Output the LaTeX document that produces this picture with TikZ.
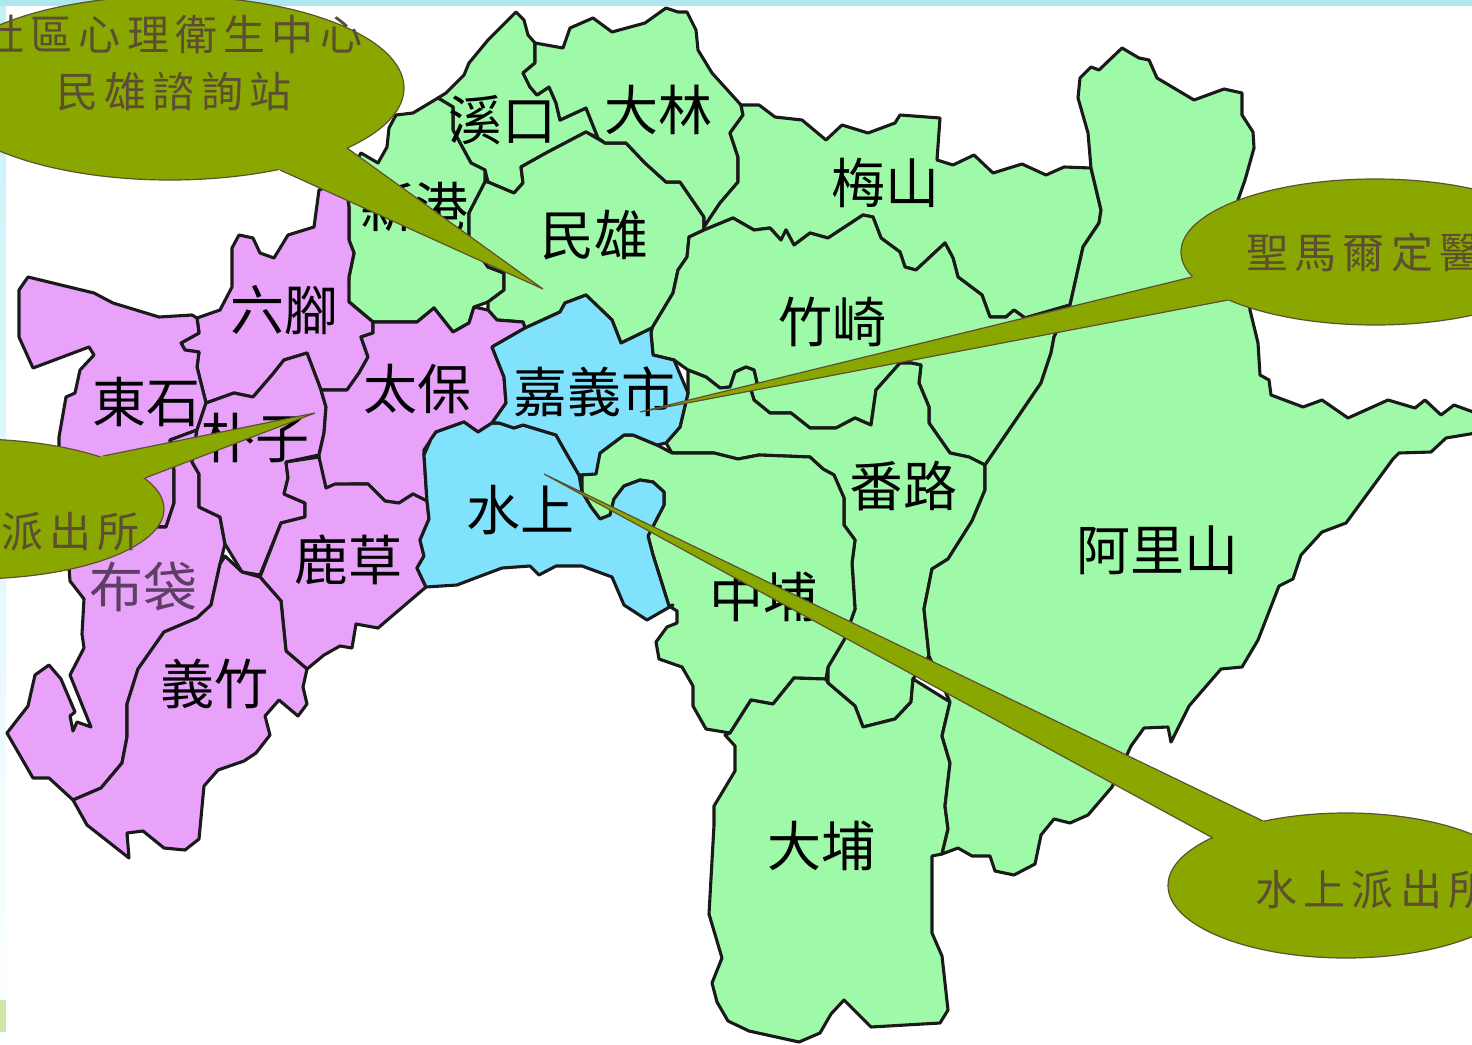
\documentclass[tikz,border=0pt]{standalone}
\usepackage{fontspec}
\newfontfamily\maplabelfont{Noto Sans CJK TC}
\newfontfamily\balloonfont[LetterSpace=15]{Noto Sans CJK TC}
\definecolor{mapgreen}{HTML}{9EF9A8}
\definecolor{mappink}{HTML}{E8A2FA}
\definecolor{mapblue}{HTML}{80E2FC}
\definecolor{mapline}{HTML}{1A1A1A}
\definecolor{olive}{HTML}{8AA700}
\definecolor{oliveline}{HTML}{5E5030}
\definecolor{balloontext}{HTML}{5C4E30}
\definecolor{topstrip}{HTML}{AEE8EE}
\definecolor{sidestrip}{HTML}{C4F2F8}
\definecolor{leafstrip}{HTML}{CFE8A8}
\tikzset{
  region/.style={draw=mapline,line width=3.1pt,line join=round},
  greenreg/.style={region,fill=mapgreen},
  pinkreg/.style={region,fill=mappink},
  bluereg/.style={region,fill=mapblue},
  maplabel/.style={text=black,inner sep=0pt,font=\maplabelfont\fontsize{54}{54}\selectfont},
  balloonbody/.style={fill=olive,draw=oliveline,line width=1.2pt},
  balloonlabel/.style={text=balloontext,inner sep=0pt,font=\balloonfont\fontsize{42}{42}\selectfont}
}
\begin{document}
\begin{tikzpicture}[x=1pt,y=-1pt]
\useasboundingbox (0,0) rectangle (1472,1044);
\clip (0,0) rectangle (1472,1044);
\fill[white] (0,0) rectangle (1472,1044);
\fill[top color=sidestrip,bottom color=white] (0,0) rectangle (6,1044);
\fill[topstrip] (0,0) rectangle (1472,6);
\fill[leafstrip] (0,1000) rectangle (6,1032);

% ---- green townships ----
\draw[greenreg] (516,12)--(524,20)--(528,35)--(535,43)--(535,63)--(523,73)--(530,87)--(537,95)--(549,87)--(556,103)--(560,120)--(586,108)--(598,138)--(586,132)--(546,153)--(521,167)--(523,183)--(514,193)--(488,182)--(485,170)--(471,163)--(453,130)--(453,107)--(438,98)--(446,93)--(464,75)--(469,63)--(488,40)--cycle;
\draw[greenreg] (438,98)--(413,113)--(396,115)--(389,128)--(387,147)--(378,163)--(361,153)--(345,180)--(349,207)--(349,240)--(354,253)--(349,277)--(347,300)--(373,322)--(417,322)--(434,308)--(453,332)--(469,323)--(474,307)--(488,302)--(504,290)--(504,273)--(488,267)--(469,240)--(469,213)--(485,182)--(485,170)--(471,163)--(453,130)--(453,107)--cycle;
\draw[greenreg] (586,132)--(605,143)--(626,143)--(645,163)--(666,182)--(680,182)--(704,217)--(704,230)--(689,237)--(687,257)--(678,270)--(673,293)--(652,328)--(621,343)--(612,320)--(586,295)--(565,303)--(560,312)--(525,328)--(523,322)--(497,320)--(488,310)--(488,302)--(504,290)--(504,273)--(488,267)--(469,240)--(469,213)--(485,182)--(488,182)--(514,193)--(523,183)--(521,167)--(546,153)--cycle;
\draw[greenreg] (535,43)--(563,48)--(570,28)--(593,18)--(612,32)--(645,23)--(666,8)--(678,12)--(687,12)--(696,30)--(698,50)--(712,73)--(741,105)--(743,115)--(730,133)--(738,157)--(738,182)--(720,203)--(704,227)--(704,217)--(680,182)--(666,182)--(645,163)--(626,143)--(605,143)--(598,138)--(586,108)--(560,120)--(556,103)--(549,87)--(537,95)--(530,87)--(523,73)--(535,63)--cycle;
\draw[greenreg] (741,105)--(759,105)--(775,117)--(802,120)--(826,140)--(842,125)--(868,133)--(895,123)--(900,115)--(940,118)--(937,160)--(953,165)--(974,155)--(993,173)--(1022,164)--(1046,175)--(1064,167)--(1091,168)--(1101,210)--(1099,223)--(1083,247)--(1070,305)--(1025,318)--(1014,310)--(1006,317)--(990,317)--(982,295)--(958,277)--(953,258)--(945,243)--(916,270)--(905,267)--(900,252)--(881,238)--(873,217)--(863,215)--(828,238)--(810,233)--(794,245)--(786,230)--(781,240)--(770,228)--(754,230)--(733,218)--(704,230)--(704,227)--(720,203)--(738,182)--(738,157)--(730,133)--(743,115)--cycle;
\draw[greenreg] (704,230)--(733,218)--(754,230)--(770,228)--(781,240)--(786,230)--(794,245)--(810,233)--(828,238)--(863,215)--(873,217)--(881,238)--(900,252)--(905,267)--(916,270)--(945,243)--(953,258)--(958,277)--(982,295)--(990,317)--(1006,317)--(1014,310)--(1025,318)--(1070,305)--(1054,337)--(1051,353)--(1041,383)--(1011,427)--(985,465)--(969,457)--(950,453)--(929,423)--(929,407)--(919,383)--(921,365)--(911,363)--(900,363)--(876,390)--(871,425)--(855,418)--(836,428)--(810,428)--(791,413)--(770,413)--(754,400)--(751,390)--(757,383)--(754,370)--(746,367)--(735,372)--(730,387)--(720,388)--(706,377)--(688,370)--(674,360)--(653,355)--(651,333)--(652,328)--(673,293)--(678,270)--(687,257)--(689,237)--cycle;
\draw[greenreg] (688,370)--(706,377)--(720,388)--(730,387)--(735,372)--(746,367)--(754,370)--(757,383)--(751,390)--(754,400)--(770,413)--(791,413)--(810,428)--(836,428)--(855,418)--(871,425)--(876,390)--(900,363)--(911,363)--(921,365)--(919,383)--(929,407)--(929,423)--(950,453)--(969,457)--(985,465)--(985,490)--(972,521)--(948,559)--(932,569)--(924,609)--(929,656)--(913,679)--(911,702)--(895,719)--(863,727)--(855,706)--(828,683)--(828,667)--(844,640)--(855,609)--(852,563)--(855,540)--(844,525)--(844,498)--(834,475)--(823,469)--(810,457)--(759,455)--(738,459)--(714,453)--(672,453)--(666,443)--(680,427)--(688,393)--cycle;
\draw[greenreg] (582,474)--(600,453)--(624,435)--(633,435)--(657,445)--(672,453)--(714,453)--(738,459)--(759,455)--(810,457)--(823,469)--(834,475)--(844,498)--(844,525)--(855,540)--(852,563)--(855,609)--(844,640)--(828,667)--(826,679)--(794,678)--(773,704)--(751,700)--(730,733)--(706,729)--(693,706)--(693,686)--(682,667)--(659,659)--(656,642)--(667,627)--(677,623)--(677,611)--(669,606)--(653,555)--(648,536)--(664,505)--(664,492)--(653,482)--(640,480)--(624,486)--(614,499)--(610,515)--(600,519)--(591,507)--(582,492)--cycle;
\draw[greenreg] (725,735)--(730,733)--(751,700)--(773,704)--(794,678)--(826,679)--(828,683)--(855,706)--(863,727)--(895,719)--(911,702)--(913,679)--(950,702)--(942,736)--(950,763)--(945,806)--(948,829)--(942,854)--(932,856)--(932,933)--(942,956)--(948,1010)--(940,1023)--(871,1027)--(844,1000)--(831,1014)--(820,1033)--(799,1042)--(749,1031)--(728,1021)--(717,1002)--(712,983)--(722,958)--(709,914)--(714,825)--(714,806)--(735,771)--(735,746)--cycle;
\draw[greenreg] (1070,305)--(1083,247)--(1099,223)--(1101,210)--(1091,168)--(1088,133)--(1078,98)--(1080,78)--(1091,67)--(1099,70)--(1122,48)--(1139,58)--(1149,60)--(1157,78)--(1194,100)--(1224,89)--(1242,93)--(1242,115)--(1253,132)--(1254,148)--(1245,180)--(1238,200)--(1250,310)--(1258,343)--(1260,375)--(1269,380)--(1271,395)--(1303,407)--(1322,400)--(1348,418)--(1388,400)--(1415,408)--(1425,400)--(1441,415)--(1454,405)--(1476,413)--(1476,433)--(1446,438)--(1431,452)--(1399,453)--(1393,459)--(1346,523)--(1322,532)--(1301,555)--(1293,579)--(1279,586)--(1258,640)--(1242,667)--(1221,669)--(1189,706)--(1171,742)--(1168,727)--(1144,728)--(1131,746)--(1112,787)--(1088,815)--(1070,823)--(1054,819)--(1041,835)--(1035,864)--(1014,875)--(995,871)--(990,856)--(972,856)--(958,848)--(942,854)--(948,829)--(945,806)--(950,763)--(942,736)--(950,702)--(929,656)--(924,609)--(932,569)--(948,559)--(972,521)--(985,490)--(985,465)--(1011,427)--(1041,383)--(1051,353)--(1054,337)--cycle;

% ---- pink townships ----
\draw[pinkreg] (345,180)--(319,190)--(314,227)--(288,235)--(274,258)--(260,253)--(253,238)--(239,235)--(232,248)--(232,287)--(220,310)--(197,318)--(199,333)--(181,343)--(185,350)--(199,352)--(197,367)--(206,403)--(234,393)--(253,397)--(272,375)--(284,360)--(307,353)--(321,390)--(347,390)--(359,373)--(368,357)--(361,337)--(373,333)--(373,322)--(349,302)--(349,277)--(354,253)--(349,240)--(349,207)--cycle;
\draw[pinkreg] (28,277)--(94,293)--(113,303)--(159,317)--(192,315)--(197,318)--(199,333)--(181,343)--(185,350)--(199,352)--(197,367)--(206,403)--(197,430)--(170,440)--(174,470)--(174,503)--(166,527)--(59,520)--(59,437)--(66,397)--(75,393)--(80,370)--(94,355)--(89,347)--(33,368)--(19,337)--(19,290)--cycle;
\draw[pinkreg] (170,440)--(197,430)--(192,462)--(199,474)--(199,507)--(220,517)--(225,544)--(220,564)--(211,605)--(197,618)--(164,632)--(138,669)--(127,704)--(127,737)--(122,763)--(101,788)--(73,800)--(49,778)--(33,778)--(7,733)--(28,706)--(35,675)--(49,665)--(61,679)--(75,712)--(70,716)--(73,731)--(77,722)--(91,727)--(70,675)--(84,648)--(82,634)--(84,599)--(70,581)--(66,527)--(166,527)--(174,503)--(174,470)--cycle;
\draw[pinkreg] (206,403)--(234,393)--(253,397)--(272,375)--(284,360)--(307,353)--(321,390)--(326,407)--(324,433)--(319,455)--(286,462)--(288,478)--(284,494)--(305,503)--(305,517)--(281,523)--(260,575)--(242,572)--(225,544)--(220,517)--(199,507)--(199,474)--(192,462)--(197,430)--cycle;
\draw[pinkreg] (373,322)--(417,322)--(434,308)--(453,332)--(469,323)--(474,307)--(488,310)--(497,320)--(523,322)--(525,328)--(492,347)--(504,377)--(506,403)--(492,423)--(478,432)--(464,422)--(436,432)--(424,450)--(424,455)--(427,501)--(413,494)--(399,503)--(385,501)--(368,484)--(352,484)--(335,486)--(326,488)--(319,462)--(319,455)--(324,433)--(326,407)--(321,390)--(347,390)--(359,373)--(368,357)--(361,337)--(373,333)--cycle;
\draw[pinkreg] (319,457)--(326,488)--(335,484)--(352,484)--(368,484)--(385,501)--(399,503)--(413,494)--(427,501)--(429,519)--(420,540)--(424,556)--(417,568)--(426,587)--(378,628)--(356,624)--(352,648)--(340,646)--(324,655)--(307,669)--(286,651)--(281,601)--(260,577)--(281,523)--(305,517)--(305,503)--(284,494)--(288,478)--(286,462)--cycle;
\draw[pinkreg] (225,556)--(242,572)--(260,577)--(281,601)--(286,651)--(307,669)--(303,687)--(307,704)--(298,716)--(279,700)--(265,716)--(270,735)--(256,753)--(244,761)--(218,770)--(204,786)--(199,839)--(185,850)--(164,848)--(143,831)--(127,833)--(129,858)--(87,825)--(73,800)--(101,788)--(122,763)--(127,737)--(127,704)--(138,669)--(164,632)--(197,618)--(211,605)--(220,564)--cycle;

% ---- blue: city and Shuishang ----
\draw[bluereg] (431,439)--(436,432)--(464,422)--(478,432)--(492,423)--(499,423)--(514,428)--(523,425)--(556,435)--(565,451)--(579,475)--(582,492)--(591,507)--(600,519)--(610,515)--(614,499)--(624,486)--(640,480)--(653,482)--(664,492)--(664,505)--(648,536)--(653,555)--(669,606)--(673,605)--(647,620)--(624,605)--(612,577)--(582,566)--(556,566)--(539,575)--(530,566)--(502,568)--(478,577)--(457,585)--(426,587)--(417,568)--(424,556)--(420,540)--(429,519)--(427,501)--(424,455)--cycle;
\draw[bluereg] (525,328)--(560,312)--(565,303)--(586,295)--(612,320)--(621,343)--(652,328)--(651,333)--(653,355)--(674,360)--(688,393)--(680,427)--(666,443)--(657,445)--(633,435)--(624,435)--(600,453)--(596,474)--(579,475)--(565,451)--(556,435)--(523,425)--(514,428)--(499,423)--(492,423)--(506,403)--(504,377)--(492,347)--cycle;

% ---- township names ----
\node[maplabel] (xikou) at (502,120) {溪口};
\node[maplabel] (dalin) at (658,110) {大林};
\node[maplabel] (meishan) at (885,183) {梅山};
\node[maplabel] (xingang) at (414,207) {新港};
\node[maplabel] (minxiong) at (594,235) {民雄};
\node[maplabel] (zhuqi) at (832,322) {竹崎};
\node[maplabel] (liujiao) at (284,310) {六腳};
\node[maplabel] (taibao) at (417,389) {太保};
\node[maplabel] (chiayi) at (594,392) {嘉義市};
\node[maplabel] (dongshi) at (146,402) {東石};
\node[maplabel] (puzi) at (255,438) {朴子};
\node[maplabel] (shuishang) at (520,510) {水上};
\node[maplabel] (lucao) at (348,560) {鹿草};
\node[maplabel] (fanlu) at (903,486) {番路};
\node[maplabel] (alishan) at (1157,550) {阿里山};
\node[maplabel] (zhongpu) at (763,597) {中埔};
\node[maplabel,opacity=.6] (budai) at (143,587) {布袋};
\node[maplabel] (yizhu) at (214,684) {義竹};
\node[maplabel] (dapu) at (821,846) {大埔};

% ---- callouts ----
\coordinate (tlc) at (170,88);
\coordinate (tla) at (347,148); \coordinate (tlb) at (280,170); \coordinate (tlt) at (543,289);
\draw[balloonbody] (tlc) ellipse [x radius=234,y radius=92];
\draw[balloonbody] (tla)--(tlt)--(tlb);
\fill[olive] (tla)--(tlb)--(tlc)--cycle;

\coordinate (lc) at (-28,509);
\coordinate (la) at (103,456); \coordinate (lb) at (145,478); \coordinate (lt) at (315,413);
\draw[balloonbody] (lc) ellipse [x radius=192,y radius=70];
\draw[balloonbody] (la)--(lt)--(lb);
\fill[olive] (la)--(lb)--(lc)--cycle;

\coordinate (rc) at (1375,252);
\coordinate (ra) at (1192,277); \coordinate (rb) at (1228,300); \coordinate (rt) at (640,412);
\draw[balloonbody] (rc) ellipse [x radius=194,y radius=73];
\draw[balloonbody] (ra)--(rt)--(rb);
\fill[olive] (ra)--(rb)--(rc)--cycle;

\coordinate (bc) at (1346,885.5);
\coordinate (ba) at (1263,821); \coordinate (bb) at (1213,838); \coordinate (bt) at (544,474);
\draw[balloonbody] (bc) ellipse [x radius=178,y radius=72.5];
\draw[balloonbody] (ba)--(bt)--(bb);
\fill[olive] (ba)--(bb)--(bc)--cycle;

\node[balloonlabel,anchor=west] (c1a) at (-18,34) {社區心理衛生中心};
\node[balloonlabel,anchor=west] (c1b) at (56,92) {民雄諮詢站};
\node[balloonlabel,anchor=west] (c2) at (1,532) {派出所};
\node[balloonlabel,anchor=west] (c3) at (1246,252) {聖馬爾定醫};
\node[balloonlabel,anchor=west] (c4) at (1255,890) {水上派出所};
\end{tikzpicture}
\end{document}
